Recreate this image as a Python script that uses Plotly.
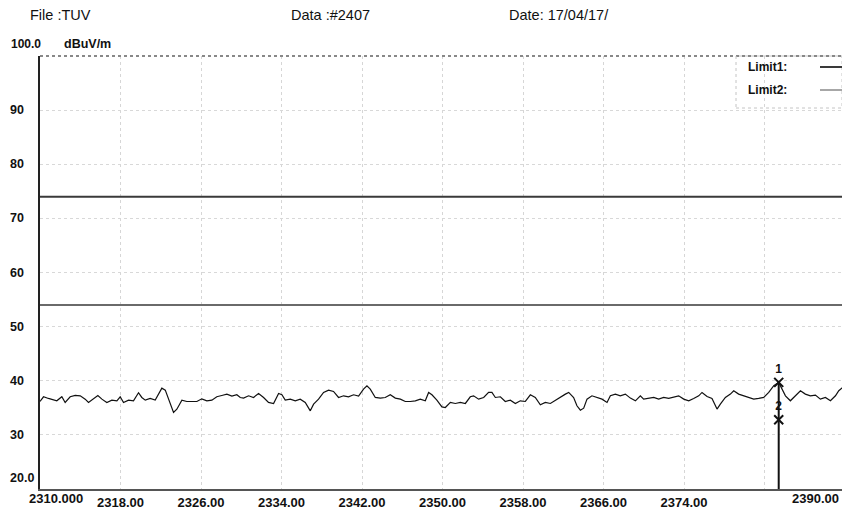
import plotly.graph_objects as go

# ---- data ----
freq_mhz = [
    2310.00, 2310.35, 2310.84, 2311.34, 2311.67, 2312.17, 2312.50, 2313.00, 2313.50, 2314.00,
    2314.49, 2314.82, 2315.32, 2315.75, 2316.15, 2316.64, 2317.14, 2317.64, 2317.97, 2318.30,
    2318.80, 2319.29, 2319.79, 2320.12, 2320.46, 2320.95, 2321.45, 2322.11, 2322.45, 2322.94,
    2323.27, 2323.60, 2324.10, 2324.59, 2325.09, 2325.59, 2326.08, 2326.58, 2327.08, 2327.57,
    2328.07, 2328.57, 2329.07, 2329.56, 2329.90,
    2330.23, 2330.73, 2331.22, 2331.72, 2332.22, 2332.71, 2333.21, 2333.71, 2334.04, 2334.37,
    2334.87, 2335.37, 2335.86, 2336.36, 2336.86, 2337.19, 2337.68, 2338.18, 2338.68, 2339.17,
    2339.67, 2340.17, 2340.66, 2341.16, 2341.66, 2342.15, 2342.49, 2342.82, 2343.32, 2343.82,
    2344.31, 2344.81, 2345.31, 2345.81, 2346.30, 2346.80, 2347.30, 2347.79, 2348.29, 2348.62,
    2348.95, 2349.44, 2349.94,
    2350.28, 2350.78, 2351.27, 2351.77, 2352.27, 2352.76, 2353.09, 2353.59, 2354.09, 2354.58,
    2354.91, 2355.25, 2355.75, 2356.24, 2356.74, 2357.24, 2357.73, 2358.23, 2358.73, 2359.22,
    2359.72, 2360.22, 2360.72, 2361.21, 2361.71, 2362.21, 2362.54, 2363.03, 2363.36, 2363.70,
    2364.03, 2364.36, 2364.85, 2365.35, 2365.85, 2366.35, 2366.68, 2367.18, 2367.67, 2368.17,
    2368.67, 2369.17, 2369.66,
    2369.99, 2370.49, 2370.99, 2371.48, 2371.98, 2372.48, 2372.98, 2373.47, 2373.97, 2374.47,
    2374.96, 2375.46, 2375.79, 2376.29, 2376.78, 2377.28, 2377.61, 2378.11, 2378.61, 2378.94,
    2379.43, 2379.93, 2380.43, 2380.93, 2381.42, 2381.92, 2382.42, 2382.92, 2383.41, 2383.70,
    2384.08, 2384.57, 2385.07, 2385.57, 2386.06, 2386.56, 2387.06, 2387.55, 2388.05, 2388.55,
    2389.05, 2389.38, 2389.78,
]
level_dbuv = [
    36.17, 37.04, 36.73, 36.42, 36.29, 37.04, 35.99, 37.04, 37.28, 37.22,
    36.60, 35.99, 36.60, 37.28, 36.60, 35.99, 36.42, 36.29, 37.04, 35.99,
    36.42, 36.29, 37.78, 36.91, 36.42, 36.73, 36.42, 38.64, 38.27, 35.68,
    34.13, 34.75, 36.42, 36.17, 36.17, 36.17, 36.66, 36.29, 36.42, 37.04,
    37.28, 37.53, 37.16, 37.41, 36.91,
    36.79, 37.22, 36.91, 37.65, 36.91, 35.99, 35.80, 37.65, 37.41, 36.42,
    36.60, 36.29, 36.60, 35.99, 34.44, 35.68, 36.60, 37.84, 38.27, 38.02,
    36.91, 37.22, 37.04, 37.41, 37.16, 38.45, 39.07, 38.45, 36.91, 36.79,
    36.91, 37.41, 36.79, 36.60, 36.17, 36.17, 36.29, 36.60, 36.29, 37.84,
    37.41, 36.42, 35.18,
    35.06, 35.99, 35.80, 35.99, 35.80, 37.04, 37.22, 36.60, 36.91, 37.84,
    37.84, 36.91, 37.04, 36.17, 36.42, 35.80, 36.29, 36.17, 37.41, 36.91,
    35.55, 35.99, 35.80, 36.42, 36.91, 37.53, 37.84, 36.91, 35.37, 34.57,
    34.94, 36.60, 37.22, 36.91, 36.60, 35.99, 37.22, 37.53, 37.22, 37.53,
    36.79, 36.29, 37.22,
    36.61, 36.73, 36.92, 36.61, 36.92, 36.73, 36.92, 37.22, 36.61, 36.30,
    36.73, 37.22, 37.84, 37.10, 36.73, 34.76, 35.68, 36.92, 37.53, 38.15,
    37.53, 37.22, 36.92, 36.61, 36.73, 36.92, 37.84, 39.08, 39.70, 38.50,
    37.22, 36.30, 37.22, 38.15, 37.53, 37.22, 37.35, 36.61, 36.92, 36.30,
    37.22, 38.15, 38.77,
]

limit_names = ["Limit1:", "Limit2:"]
limit_values = [74.0, 54.0]

marker_labels = ["1", "2"]
marker_freq = [2383.41, 2383.41]
marker_level = [39.7, 32.8]

x_tick_vals = [2318, 2326, 2334, 2342, 2350, 2358, 2366, 2374, 2382]
x_tick_text = ["2318.00", "2326.00", "2334.00", "2342.00", "2350.00",
               "2358.00", "2366.00", "2374.00", ""]
x_first_label = "2310.000"
x_last_label = "2390.00"
y_tick_vals = [30, 40, 50, 60, 70, 80, 90]
y_tick_text = ["30", "40", "50", "60", "70", "80", "90"]
y_bottom_label = "20.0"
y_top_label = "100.0"
y_unit = "dBuV/m"

header_file = "File :TUV"
header_data = "Data :#2407"
header_date = "Date: 17/04/17/"

# ---- layout constants (page margin removed by post_script) ----
OFF = 0
W, H = 842, 509
ML, MR, MT, MB = 40, 0, 56, 20
PW = W - ML - MR
PH = H - MT - MB
X0, X1 = 2310.0, 2389.7
Y0, Y1 = 20.0, 100.0


def px_to_paper_x(px):
    return (px - OFF - ML) / PW


def px_to_paper_y(py):
    return (H - MB - (py - OFF)) / PH


FONT = "Liberation Sans"
BOLDF = dict(family=FONT, weight="bold", color="#111111")
fig = go.Figure()

# limit lines
limit_colors = ["#3a3a3a", "#6a6a6a"]
for name, val, col in zip(limit_names, limit_values, limit_colors):
    fig.add_trace(go.Scatter(x=[X0, 2390.0], y=[val, val], mode="lines",
                             line=dict(color=col, width=2), showlegend=False,
                             hoverinfo="skip"))

# measurement trace
fig.add_trace(go.Scatter(x=freq_mhz, y=level_dbuv, mode="lines",
                         line=dict(color="#111111", width=1.2), showlegend=False))

# marker vertical line from marker 1 down to the axis
fig.add_trace(go.Scatter(x=[marker_freq[0], marker_freq[0]], y=[marker_level[0], Y0],
                         mode="lines", line=dict(color="#111111", width=2),
                         showlegend=False, hoverinfo="skip"))

# markers
fig.add_trace(go.Scatter(x=marker_freq, y=marker_level, mode="markers+text",
                         marker=dict(symbol="x-thin", size=9, color="#111111",
                                     line=dict(width=2, color="#111111")),
                         text=marker_labels, textposition="top center",
                         textfont=dict(BOLDF, size=12),
                         showlegend=False, cliponaxis=False))

annotations = []
# y labels (left-aligned)
for v, t in zip(y_tick_vals, y_tick_text):
    annotations.append(dict(x=px_to_paper_x(8), xref="paper", y=v, yref="y",
                            text=t, showarrow=False, xanchor="left",
                            yanchor="middle", font=dict(BOLDF, size=12.5)))
annotations.append(dict(x=px_to_paper_x(8), xref="paper", y=px_to_paper_y(478), yref="paper",
                        text=y_bottom_label, showarrow=False, xanchor="left",
                        yanchor="middle", font=dict(BOLDF, size=12.5)))
annotations.append(dict(x=px_to_paper_x(9), xref="paper", y=px_to_paper_y(44), yref="paper",
                        text=y_top_label, showarrow=False, xanchor="left",
                        yanchor="middle", font=dict(BOLDF, size=12)))
annotations.append(dict(x=px_to_paper_x(62), xref="paper", y=px_to_paper_y(44), yref="paper",
                        text=y_unit, showarrow=False, xanchor="left",
                        yanchor="middle", font=dict(BOLDF, size=12.5)))
# x end labels
annotations.append(dict(x=px_to_paper_x(27), xref="paper", y=px_to_paper_y(498), yref="paper",
                        text=x_first_label, showarrow=False, xanchor="left",
                        yanchor="middle", font=dict(BOLDF, size=13)))
annotations.append(dict(x=px_to_paper_x(841), xref="paper", y=px_to_paper_y(498), yref="paper",
                        text=x_last_label, showarrow=False, xanchor="right",
                        yanchor="middle", font=dict(BOLDF, size=13)))
# header
for px, t in [(28, header_file), (289, header_data), (507, header_date)]:
    annotations.append(dict(x=px_to_paper_x(px), xref="paper", y=px_to_paper_y(15), yref="paper",
                            text=t, showarrow=False, xanchor="left", yanchor="middle",
                            font=dict(family=FONT, size=14.5, color="#111111")))
# legend texts
for py, t in [(67, limit_names[0]), (90, limit_names[1])]:
    annotations.append(dict(x=px_to_paper_x(746), xref="paper", y=px_to_paper_y(py), yref="paper",
                            text=t, showarrow=False, xanchor="left", yanchor="middle",
                            font=dict(BOLDF, size=12)))

shapes = [
    # top border
    dict(type="line", xref="paper", yref="paper", x0=0, x1=1, y0=1, y1=1,
         line=dict(color="#888888", width=2, dash="dot")),
    # legend box
    dict(type="rect", xref="paper", yref="paper",
         x0=px_to_paper_x(736), x1=1.0, y0=px_to_paper_y(108), y1=1.0,
         line=dict(color="#c4c4c4", width=1, dash="dot"), fillcolor="rgba(0,0,0,0)"),
    # legend line samples
    dict(type="line", xref="paper", yref="paper", x0=px_to_paper_x(820), x1=1.0,
         y0=px_to_paper_y(67), y1=px_to_paper_y(67), line=dict(color=limit_colors[0], width=2)),
    dict(type="line", xref="paper", yref="paper", x0=px_to_paper_x(820), x1=1.0,
         y0=px_to_paper_y(90), y1=px_to_paper_y(90), line=dict(color="#8a8a8a", width=1.5)),
]

fig.update_layout(
    width=W, height=H,
    margin=dict(l=ML, r=MR, t=MT, b=MB, pad=0),
    paper_bgcolor="white", plot_bgcolor="white",
    showlegend=False,
    annotations=annotations,
    shapes=shapes,
    xaxis=dict(range=[X0, X1], tickvals=x_tick_vals, ticktext=x_tick_text,
               showgrid=True, gridcolor="#d6d6d6", griddash="dot", gridwidth=1,
               zeroline=False, showline=True, linecolor="#555555", linewidth=2,
               ticks="", tickfont=dict(BOLDF, size=13), fixedrange=True),
    yaxis=dict(range=[Y0, Y1], tickvals=y_tick_vals, showticklabels=False,
               showgrid=True, gridcolor="#d8d8d8", griddash="dot", gridwidth=1,
               zeroline=False, showline=True, linecolor="#222222", linewidth=2,
               ticks="", fixedrange=True),
)

page_js = ("document.documentElement.style.overflow='hidden';"
           "document.body.style.margin='0';document.body.style.overflow='hidden';")
fig.write_html("out.html", post_script=page_js,
               config={"displayModeBar": False, "staticPlot": True})
